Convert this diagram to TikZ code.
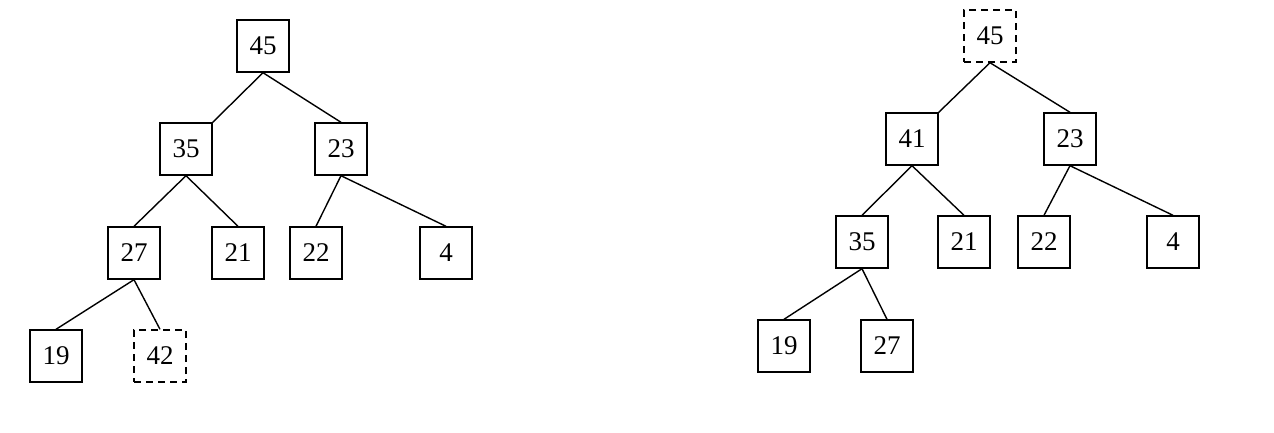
\documentclass[tikz,border=0pt]{standalone}
\usepackage{fontspec}
\setmainfont{Liberation Serif}
\begin{document}
\begin{tikzpicture}[x=1pt,y=-1pt,
  nd/.style={draw,line width=1.4pt,minimum width=52pt,minimum height=52pt,inner sep=0pt,font=\fontsize{27}{30}\selectfont},
  dnd/.style={nd,dash pattern=on 7pt off 5pt},
  ed/.style={line width=1.4pt}]
\useasboundingbox (0,0) rectangle (1274,432);
\node[nd] (a1) at (263,46) {45};
\node[nd] (a2) at (186,149) {35};
\node[nd] (a3) at (341,149) {23};
\node[nd] (a4) at (134,253) {27};
\node[nd] (a5) at (238,253) {21};
\node[nd] (a6) at (316,253) {22};
\node[nd] (a7) at (446,253) {4};
\node[nd] (a8) at (56,356) {19};
\node[dnd] (a9) at (160,356) {42};
\draw[ed] (a1.south) -- (a2.north east);
\draw[ed] (a1.south) -- (a3.north);
\draw[ed] (a2.south) -- (a4.north);
\draw[ed] (a2.south) -- (a5.north);
\draw[ed] (a3.south) -- (a6.north);
\draw[ed] (a3.south) -- (a7.north);
\draw[ed] (a4.south) -- (a8.north);
\draw[ed] (a4.south) -- (a9.north);
\node[dnd] (b1) at (990,36) {45};
\node[nd] (b2) at (912,139) {41};
\node[nd] (b3) at (1070,139) {23};
\node[nd] (b4) at (862,242) {35};
\node[nd] (b5) at (964,242) {21};
\node[nd] (b6) at (1044,242) {22};
\node[nd] (b7) at (1173,242) {4};
\node[nd] (b8) at (784,346) {19};
\node[nd] (b9) at (887,346) {27};
\draw[ed] (b1.south) -- (b2.north east);
\draw[ed] (b1.south) -- (b3.north);
\draw[ed] (b2.south) -- (b4.north);
\draw[ed] (b2.south) -- (b5.north);
\draw[ed] (b3.south) -- (b6.north);
\draw[ed] (b3.south) -- (b7.north);
\draw[ed] (b4.south) -- (b8.north);
\draw[ed] (b4.south) -- (b9.north);
\end{tikzpicture}
\end{document}
